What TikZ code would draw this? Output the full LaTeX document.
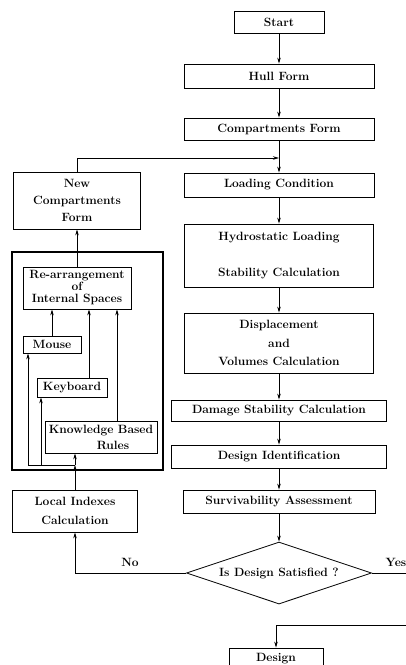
\documentclass[tikz,border=0pt]{standalone}
\usetikzlibrary{shapes.geometric,arrows.meta}

\begin{document}
\begin{tikzpicture}[x=1pt, y=-1pt,
    font=\fontsize{12}{13}\selectfont\bfseries,
    line width=0.8pt,
    >={Stealth[length=6pt,width=3.5pt]},
    box/.style={draw, rectangle, align=center, inner sep=1pt},
  ]
    \useasboundingbox (0, 0) rectangle (406, 665);
    \clip (0, 0) rectangle (406, 665);

    \node [box, minimum width=90, minimum height=22] (start) at (279, 22) {Start};
    \node [box, minimum width=190, minimum height=24] (hull) at (279, 76) {Hull Form};
    \node [box, minimum width=190, minimum height=22] (comp) at (279, 129) {Compartments Form};
    \node [box, minimum width=190, minimum height=24] (load) at (279, 185) {Loading Condition};
    \node [box, minimum width=189, minimum height=63] (hydro) at (279, 255.5)
      {Hydrostatic Loading\\[23pt]Stability Calculation};
    \node [box, minimum width=189, minimum height=60] (disp) at (279, 343)
      {Displacement\\[5.5pt]and\\[5.5pt]Volumes Calculation};
    \node [box, minimum width=215, minimum height=21] (damage) at (279, 410.5) {Damage Stability Calculation};
    \node [box, minimum width=215, minimum height=23] (ident) at (279, 456.5) {Design Identification};
    \node [box, minimum width=192, minimum height=23] (surv) at (279, 501.5) {Survivability Assessment};
    \node [draw, diamond, aspect=3, inner sep=0, minimum width=185, minimum height=62] (sat) at (279, 573)
      {Is Design Satisfied ?};
    \node [box, minimum width=94, minimum height=22] (design) at (276, 659) {Design};

    \node [box, minimum width=127, minimum height=57] (newc) at (77, 200.5)
      {New\\[4pt]Compartments\\[4pt]Form};
    \draw [line width=1.4pt] (12, 252) rectangle (163, 470);
    \node [box, minimum width=108, minimum height=42] (rearr) at (77, 288)
      {Re-arrangement\\[-1pt]of\\[-1pt]Internal Spaces};
    \node [box, minimum width=58, minimum height=17] (mouse) at (52, 344.5) {Mouse};
    \node [box, minimum width=70, minimum height=19] (keyb) at (72, 387.5) {Keyboard};
    \node [box, minimum width=112, minimum height=32] (know) at (101, 437)
      {Knowledge Based\\[3pt]\hspace*{24pt}Rules};
    \node [box, minimum width=125, minimum height=42] (local) at (75, 511)
      {Local Indexes\\[6pt]Calculation};

    \node (no) at (130, 562) {No};
    \node (yes) at (396, 562) {Yes};

    \coordinate (merge) at (279, 158);
    \coordinate (split) at (75, 465);
    \coordinate (mleg) at (28, 465);
    \coordinate (kleg) at (41, 465);
    \coordinate (yesout) at (420, 573);
    \coordinate (yesin) at (420, 625);

    \draw [->] (start) -- (hull);
    \draw [->] (hull) -- (comp);
    \draw [->] (comp) -- (load);
    \draw [->] (newc.north) |- (merge);
    \draw [->] (load) -- (hydro);
    \draw [->] (hydro) -- (disp);
    \draw [->] (disp) -- (damage);
    \draw [->] (damage) -- (ident);
    \draw [->] (ident) -- (surv);
    \draw [->] (surv) -- (sat);

    \draw [->] (sat.west) -| (local.south);
    \draw [->] (sat.east) -- (yesout) -- (yesin) -| (design.north);

    \draw [->] (local) -- (split);
    \draw [->] (split) -- (split |- know.south);
    \draw [->] (split) -- (mleg) -- (mleg |- mouse.south);
    \draw [->] (kleg) -- (kleg |- keyb.south);

    \draw [->] (mouse.north) -- (mouse.north |- rearr.south);
    \draw [->] ([xshift=17]keyb.north) -- ([xshift=17]keyb.north |- rearr.south);
    \draw [->] ([xshift=16]know.north) -- ([xshift=16]know.north |- rearr.south);
    \draw [->] (rearr.north) -- (newc.south);
  \end{tikzpicture}
\end{document}
